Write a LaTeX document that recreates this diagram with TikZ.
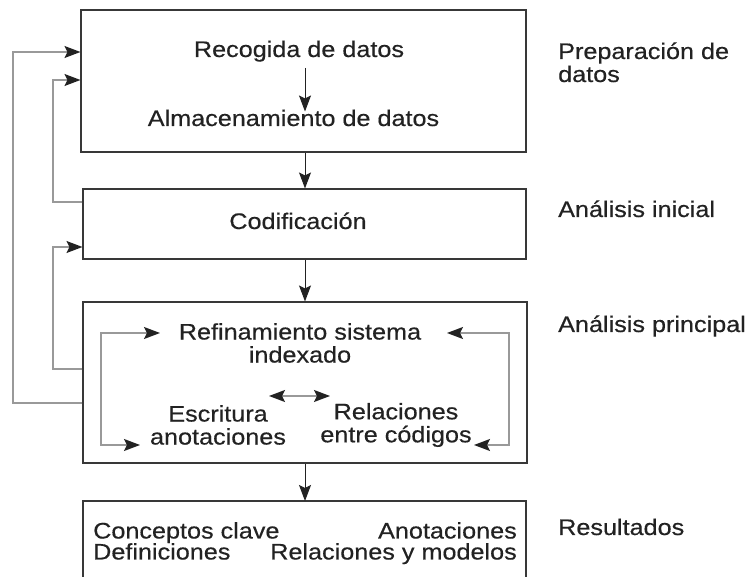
\documentclass[tikz,border=0pt]{standalone}
\usepackage{fontspec}
\setmainfont{Liberation Sans}[FakeStretch=1.12,FakeBold=0.4]
\usetikzlibrary{arrows.meta}
\definecolor{ink}{HTML}{222222}
\definecolor{fb}{HTML}{999999}
\tikzset{
  boxnode/.style={draw=ink!90, line width=1.1pt, inner sep=0pt},
  txt/.style={font=\fontsize{22.5}{23}\selectfont, text=ink, inner sep=0pt, align=center},
  tipb/.tip={Stealth[length=16pt,width=12pt,inset=3pt,color=ink]},
  darr/.style={draw=ink, line width=1pt, -tipb},
  garr/.style={draw=fb, line width=1.4pt, -tipb},
  gboth/.style={draw=fb, line width=1.4pt, tipb-tipb},
}
\begin{document}
\begin{tikzpicture}[x=1pt,y=-1pt]
\useasboundingbox[fill=white] (0,0) rectangle (748,577);
% boxes
\node[boxnode, minimum width=445pt, minimum height=142pt] (b1) at (303.5,81) {};
\node[boxnode, minimum width=443pt, minimum height=70pt] (b2) at (304.5,224) {};
\node[boxnode, minimum width=444pt, minimum height=161pt] (b3) at (305,382.5) {};
\coordinate (b4nw) at (83,501);
\coordinate (b4ne) at (526,501);
\coordinate (b4sw) at (83,590);
\coordinate (b4se) at (526,590);
\draw[draw=ink!90, line width=1.1pt] (b4sw) -- (b4nw) -- (b4ne) -- (b4se);
% texts
\node[txt, anchor=base] (t1) at (299,57) {Recogida de datos};
\node[txt, anchor=base] (t2) at (293.5,126) {Almacenamiento de datos};
\node[txt, anchor=base] (t3) at (298,229) {Codificación};
\node[txt] (ref) at (300,343) {Refinamiento sistema\\indexado};
\node[txt] (esc) at (218,425) {Escritura\\anotaciones};
\node[txt] (rel) at (396,425) {Relaciones\\entre códigos};
\node[txt, anchor=base west] (r1) at (93,538.5) {Conceptos clave};
\node[txt, anchor=base west] (r2) at (93,559.5) {Definiciones};
\node[txt, anchor=base east] (r3) at (517,538.5) {Anotaciones};
\node[txt, anchor=base east] (r4) at (517,559.5) {Relaciones y modelos};
% side labels
\node[txt, anchor=base west] (s1) at (558,59) {Preparación de};
\node[txt, anchor=base west] (s1b) at (558,82) {datos};
\node[txt, anchor=base west] (s2) at (558,217) {Análisis inicial};
\node[txt, anchor=base west] (s3) at (558,332) {Análisis principal};
\node[txt, anchor=base west] (s4) at (558,535) {Resultados};
% main flow
\coordinate (cx) at (305,0);
\draw[darr] (t1.south -| cx) ++(0,6) -- ([yshift=-2pt]t2.north -| cx);
\draw[darr] (b1.south -| cx) -- (b2.north -| cx);
\draw[darr] (b2.south -| cx) -- (b3.north -| cx);
\draw[darr] (b3.south -| cx) -- (b4nw -| cx);
% feedback loops
\coordinate (xo) at (13,0);
\coordinate (xi) at (53,0);
\draw[garr] (b3.west |- 0,403) -| (xo |- 0,52) -- (b1.west |- 0,52);
\draw[garr] (b2.west |- 0,202) -| (xi |- 0,80) -- (b1.west |- 0,80);
\draw[garr] (b3.west |- 0,369) -| (xi |- 0,247) -- (b2.west |- 0,247);
% inner loops
\coordinate (xl) at (101,0);
\coordinate (xr) at (509,0);
\draw[gboth] (160,333) -- (xl |- 0,333) -- (xl |- 0,445) -- (140,445);
\draw[gboth] (447,333) -- (xr |- 0,333) -- (xr |- 0,445) -- (474,445);
\draw[gboth] (269,396) -- (330,396);
\end{tikzpicture}
\end{document}
